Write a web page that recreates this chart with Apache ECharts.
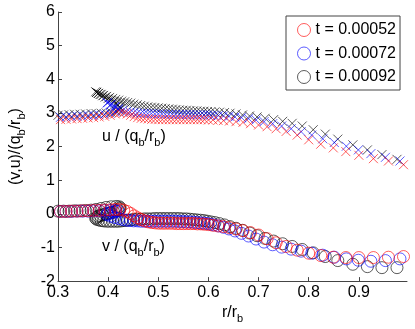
<!DOCTYPE html>
<html>
<head>
<meta charset="utf-8">
<script src="https://cdn.jsdelivr.net/npm/echarts@6/dist/echarts.min.js"></script>
<style>
html, body { margin: 0; padding: 0; background: #fff; }
#main { width: 415px; height: 329px; }
</style>
</head>
<body>
<div id="main"></div>
<script>
// t = 0.00052 (red)
var rRed = [0.305,0.316,0.327,0.338,0.349,0.360,0.371,0.382,0.393,0.404,
	0.414,0.423,0.431,0.438,0.445,0.452,0.459,0.466,0.473,0.480,
	0.487,0.494,0.501,0.508,0.515,0.522,0.529,0.536,0.543,0.550,
	0.557,0.564,0.571,0.578,0.585,0.592,0.600,0.609,0.619,0.630,
	0.642,0.655,0.669,0.684,0.700,0.717,0.735,0.755,0.777,0.800,
	0.824,0.849,0.874,0.900,0.929,0.959,0.989];
var vRed = [0.07,0.07,0.08,0.08,0.09,0.09,0.10,0.10,0.11,0.12,
	0.13,0.13,0.11,0.07,0.01,-0.06,-0.12,-0.17,-0.21,-0.24,
	-0.26,-0.27,-0.28,-0.28,-0.28,-0.28,-0.28,-0.29,-0.29,-0.29,
	-0.29,-0.29,-0.29,-0.30,-0.30,-0.31,-0.32,-0.34,-0.36,-0.38,
	-0.41,-0.45,-0.50,-0.56,-0.63,-0.74,-0.86,-0.97,-1.08,-1.17,
	-1.24,-1.29,-1.30,-1.30,-1.30,-1.29,-1.27];
var uRed = [2.80,2.81,2.82,2.83,2.84,2.85,2.86,2.88,2.90,2.93,
	2.97,3.00,3.00,2.97,2.93,2.89,2.86,2.84,2.83,2.82,
	2.81,2.81,2.80,2.80,2.80,2.80,2.80,2.80,2.80,2.80,
	2.80,2.80,2.80,2.80,2.80,2.80,2.79,2.79,2.78,2.77,
	2.76,2.74,2.72,2.68,2.64,2.59,2.53,2.45,2.34,2.20,
	2.07,1.96,1.85,1.74,1.64,1.57,1.46];

// t = 0.00072 (blue)
var rBlue = [0.305,0.316,0.327,0.338,0.349,0.360,0.371,0.382,0.393,0.404,0.414,
	0.420,0.414,0.406,0.399,0.398,0.405,0.413,0.421,0.429,0.437,
	0.444,0.451,0.458,0.465,0.472,0.479,0.486,0.493,0.500,0.507,0.514,0.521,
	0.528,0.535,0.542,0.549,0.556,0.563,0.570,0.577,0.584,0.591,0.598,0.604,
	0.611,0.620,0.630,0.641,0.653,0.666,0.680,0.695,0.711,0.728,0.746,
	0.765,0.785,0.806,0.828,0.851,0.875,0.899,0.924,0.953,0.982];
var vBlue = [0.07,0.07,0.07,0.08,0.08,0.08,0.09,0.09,0.10,0.10,0.10,
	0.08,0.06,0.04,0.01,-0.03,-0.07,-0.11,-0.14,-0.17,-0.19,
	-0.20,-0.21,-0.21,-0.22,-0.22,-0.22,-0.22,-0.22,-0.22,-0.22,-0.22,-0.22,
	-0.22,-0.22,-0.23,-0.23,-0.24,-0.24,-0.25,-0.26,-0.27,-0.28,-0.29,-0.31,
	-0.33,-0.36,-0.40,-0.45,-0.51,-0.58,-0.66,-0.75,-0.84,-0.92,-0.99,
	-1.05,-1.11,-1.17,-1.23,-1.29,-1.34,-1.38,-1.41,-1.39,-1.34];
var uBlue = [2.87,2.88,2.89,2.90,2.91,2.92,2.93,2.94,2.96,2.99,3.03,
	3.10,3.18,3.25,3.30,3.30,3.25,3.19,3.13,3.08,3.04,
	3.02,3.01,3.00,2.99,2.99,2.98,2.98,2.97,2.97,2.97,2.96,2.96,
	2.96,2.96,2.95,2.95,2.95,2.95,2.94,2.94,2.94,2.94,2.94,2.93,
	2.93,2.92,2.91,2.90,2.88,2.86,2.83,2.79,2.74,2.68,2.61,
	2.53,2.44,2.34,2.23,2.12,2.01,1.90,1.79,1.68,1.57];

// t = 0.00092 (black)
var rBlack = [0.300,0.311,0.322,0.333,0.344,0.355,0.366,0.376,0.386,0.396,0.406,0.416,
	0.422,0.424,0.423,0.420,0.416,0.411,0.405,0.400,0.394,0.389,0.384,0.380,0.377,0.375,
	0.377,0.381,0.386,0.391,0.397,0.403,0.409,0.415,0.421,0.427,0.433,0.439,0.445,
	0.451,0.458,0.465,0.472,0.479,0.486,0.493,0.500,0.507,0.514,0.521,0.528,
	0.535,0.542,0.549,0.556,0.563,0.570,0.577,0.584,0.591,0.598,0.605,
	0.613,0.622,0.632,0.643,0.655,0.668,0.682,0.697,0.713,0.730,
	0.748,0.767,0.787,0.809,0.833,0.858,0.888,0.917,0.946,0.976];
var vBlack = [0.08,0.08,0.08,0.09,0.09,0.10,0.11,0.13,0.16,0.19,0.21,0.22,
	0.21,0.18,0.15,0.11,0.08,0.05,0.03,0.01,-0.01,-0.03,-0.05,-0.07,-0.10,-0.13,
	-0.16,-0.18,-0.20,-0.21,-0.22,-0.22,-0.22,-0.22,-0.22,-0.21,-0.20,-0.19,-0.18,
	-0.17,-0.16,-0.16,-0.15,-0.15,-0.15,-0.14,-0.14,-0.14,-0.14,-0.14,-0.14,
	-0.14,-0.14,-0.15,-0.15,-0.16,-0.17,-0.18,-0.19,-0.20,-0.22,-0.24,
	-0.26,-0.29,-0.33,-0.38,-0.43,-0.49,-0.57,-0.65,-0.73,-0.81,
	-0.89,-0.97,-1.06,-1.16,-1.27,-1.39,-1.50,-1.57,-1.60,-1.60];
var uBlack = [2.93,2.94,2.95,2.96,2.96,2.97,2.98,2.98,2.99,3.00,3.02,3.05,
	3.09,3.13,3.18,3.23,3.28,3.33,3.38,3.43,3.47,3.51,3.55,3.58,3.61,3.63,
	3.61,3.58,3.55,3.52,3.49,3.46,3.43,3.40,3.38,3.35,3.33,3.31,3.29,
	3.26,3.24,3.22,3.20,3.18,3.17,3.16,3.15,3.14,3.13,3.12,3.11,
	3.10,3.09,3.08,3.08,3.07,3.06,3.06,3.05,3.05,3.04,3.04,
	3.03,3.02,3.01,2.99,2.97,2.94,2.91,2.88,2.84,2.80,
	2.75,2.69,2.61,2.50,2.37,2.22,2.05,1.90,1.76,1.62];

var legendNames = ['t = 0.00052', 't = 0.00072', 't = 0.00092'];
var colors = ['#ff0000', '#0000ff', '#000000'];

var xTicks = { min: 0.3, max: 0.996, step: 0.1 };
var yTicks = { min: -2, max: 6, step: 1 };

var FONT = 'Liberation Sans';
var crossPath = 'path://M0,0L10,10M10,0L0,10';

function pairs(r, y) {
	var out = [];
	for (var i = 0; i < r.length; i++) out.push([r[i], y[i]]);
	return out;
}

function circles(name, color, r, v) {
	return {
		name: name, type: 'scatter', symbol: 'circle', symbolSize: 12,
		data: pairs(r, v), silent: true, emphasis: { disabled: true },
		itemStyle: { color: 'none', borderColor: color, borderWidth: 0.8 }
	};
}

function crosses(name, color, r, u) {
	return {
		name: name, type: 'scatter', symbol: crossPath, symbolSize: 9,
		data: pairs(r, u), silent: true, emphasis: { disabled: true },
		itemStyle: { color: 'none', borderColor: color, borderWidth: 0.8 }
	};
}

var rich = {
	n: { fontFamily: FONT, fontSize: 16, lineHeight: 22, verticalAlign: 'middle', color: '#000' },
	s: { fontFamily: FONT, fontSize: 11, lineHeight: 11, verticalAlign: 'bottom', color: '#000' }
};

var myChart = echarts.init(document.getElementById('main'));

myChart.setOption({
	animation: false,
	backgroundColor: '#fff',
	grid: { left: 52, right: 8, top: 12, bottom: 43 },
	legend: {
		left: 286, top: 16,
		orient: 'vertical',
		padding: [5, 4, 4, 9],
		itemWidth: 13, itemHeight: 13, itemGap: 5.5,
		borderColor: '#444', borderWidth: 1, backgroundColor: '#fff',
		textStyle: { fontFamily: FONT, fontSize: 16, color: '#000', lineHeight: 13 },
		data: legendNames.map(function (n, i) {
			return { name: n, icon: 'circle', itemStyle: { color: 'none', borderColor: colors[i], borderWidth: 0.8 } };
		})
	},
	xAxis: {
		type: 'value', min: xTicks.min, max: xTicks.max, interval: xTicks.step,
		name: '{n|r/r}{s|b}', nameLocation: 'middle', nameGap: 14,
		nameTextStyle: { rich: rich },
		axisLine: { onZero: false, lineStyle: { color: '#444', width: 1 } },
		axisTick: { inside: true, length: 4, lineStyle: { color: '#444' } },
		axisLabel: {
			fontFamily: FONT, fontSize: 16, color: '#000', margin: 3,
			showMaxLabel: false,
			formatter: function (v) { return Math.abs(v * 10 - Math.round(v * 10)) < 1e-6 ? v.toFixed(1) : ''; }
		},
		splitLine: { show: false }
	},
	yAxis: {
		type: 'value', min: yTicks.min, max: yTicks.max, interval: yTicks.step,
		name: '{n|(v,u)/(q}{s|b}{n|/r}{s|b}{n|)}', nameLocation: 'middle', nameGap: 31, nameRotate: 90,
		nameTextStyle: { rich: rich },
		axisLine: { onZero: false, lineStyle: { color: '#444', width: 1 } },
		axisTick: { inside: true, length: 4, lineStyle: { color: '#444' } },
		axisLabel: { fontFamily: FONT, fontSize: 16, color: '#000', margin: 3 },
		splitLine: { show: false }
	},
	graphic: [
		{ type: 'text', left: 102, top: 129, silent: true,
			style: { text: '{n|u / (q}{s|b}{n|/r}{s|b}{n|)}', rich: rich } },
		{ type: 'text', left: 102, top: 239, silent: true,
			style: { text: '{n|v / (q}{s|b}{n|/r}{s|b}{n|)}', rich: rich } }
	],
	series: [
		crosses('u3', colors[2], rBlack, uBlack),
		circles(legendNames[2], colors[2], rBlack, vBlack),
		crosses('u2', colors[1], rBlue, uBlue),
		circles(legendNames[1], colors[1], rBlue, vBlue),
		crosses('u1', colors[0], rRed, uRed),
		circles(legendNames[0], colors[0], rRed, vRed)
	]
});
</script>
</body>
</html>
